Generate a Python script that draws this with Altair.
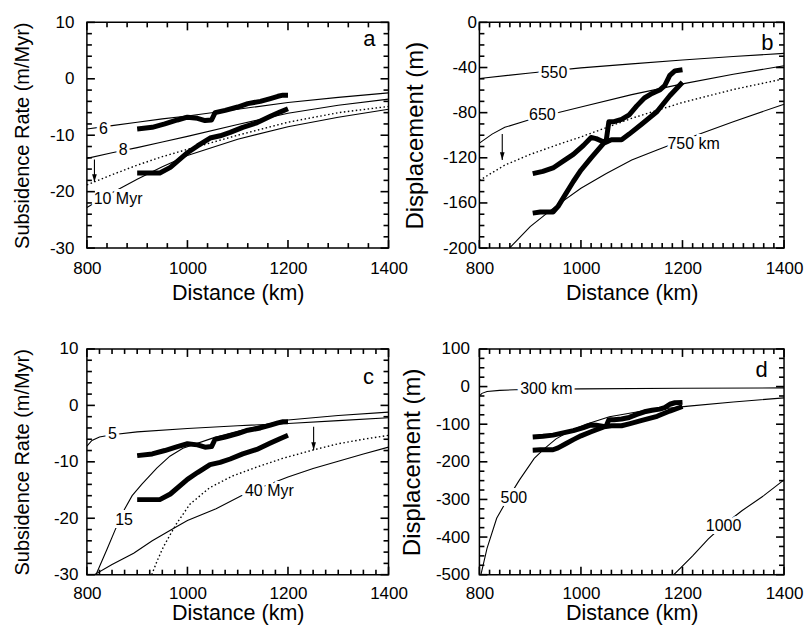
import altair as alt
import pandas as pd

FONT = "Liberation Sans"
H = 226

# ---------------- shared observed data (thick lines) ----------------
RATE_UP_X = [900, 930, 955, 980, 1000, 1020, 1035, 1048, 1055, 1075, 1100, 1120, 1145, 1165, 1180, 1190, 1200]
RATE_UP_Y = [-8.9, -8.6, -8.0, -7.3, -6.8, -7.0, -7.4, -7.3, -6.0, -5.6, -5.0, -4.4, -4.0, -3.5, -3.1, -2.9, -2.9]
RATE_LO_X = [900, 945, 966, 1000, 1020, 1045, 1065, 1085, 1110, 1138, 1164, 1184, 1200]
RATE_LO_Y = [-16.7, -16.7, -15.7, -13.1, -11.9, -10.5, -10.1, -9.5, -8.6, -7.8, -6.7, -5.9, -5.3]

DISP_UP_X = [905, 925, 945, 965, 985, 1005, 1020, 1030, 1045, 1050, 1055, 1065, 1080, 1095, 1110, 1125, 1140, 1155, 1165, 1175, 1185, 1200]
DISP_UP_Y = [-134, -132, -129, -123, -117, -109, -102, -103, -106, -104, -88, -88, -86, -82, -74, -67, -63, -60, -56, -47, -43, -42]
DISP_LO_X = [905, 920, 945, 955, 970, 985, 1000, 1020, 1045, 1060, 1080, 1095, 1120, 1150, 1175, 1200]
DISP_LO_Y = [-169, -168, -168, -163, -152, -141, -131, -120, -107, -104, -104, -99, -90, -79, -65, -53]

# ---------------- panel a ----------------
A_X = [800, 850, 900, 950, 1000, 1100, 1200, 1300, 1400]
A_6 = [-8.9, -8.3, -7.7, -7.1, -6.6, -5.4, -4.2, -3.3, -2.5]
A_8 = [-14.1, -13.1, -12.2, -11.2, -10.2, -8.1, -6.1, -4.7, -3.6]
A_DOT = [-18.8, -17.0, -15.3, -13.8, -12.5, -10.0, -7.7, -6.0, -4.9]
A_10 = [-22.8, -20.2, -17.8, -15.6, -13.6, -10.7, -8.5, -6.8, -5.4]
A_LABELS = ["6", "8", "10 Myr"]
A_LAB_X = [833, 872, 862]
A_LAB_Y = [-8.9, -12.6, -21.3]
A_ARROW = [815, -14.3, -18.3]

# ---------------- panel b ----------------
B550_X = [800, 900, 1000, 1100, 1200, 1300, 1400]
B550_Y = [-49.8, -44.8, -40.3, -36.8, -33.4, -30.3, -27.5]
B650_X = [800, 825, 850, 900, 950, 1000, 1100, 1200, 1300, 1400]
B650_Y = [-107, -99, -93, -86, -80.5, -75, -64, -54.5, -46, -38.5]
BDOT_X = [800, 850, 900, 950, 1000, 1100, 1200, 1300, 1400]
BDOT_Y = [-140, -126.5, -117, -109, -101.5, -85, -71, -59.5, -50]
B750_X = [855, 900, 950, 1000, 1050, 1100, 1150, 1200, 1300, 1400]
B750_Y = [-202, -181, -163, -147, -134, -122, -113, -104.5, -88, -72.5]
B_LABELS = ["550", "650", "750 km"]
B_LAB_X = [947, 924, 1222]
B_LAB_Y = [-44.5, -82.5, -108]
B_ARROW = [845, -99, -122]

# ---------------- panel c ----------------
C5_X = [800, 810, 825, 850, 900, 1000, 1100, 1200, 1300, 1400]
C5_Y = [-7.2, -6.2, -5.6, -5.2, -4.7, -4.1, -3.6, -3.2, -2.7, -2.2]
C15_X = [818, 840, 856, 873, 890, 909, 939, 965, 991, 1050, 1100, 1150, 1200, 1300, 1400]
C15_Y = [-30, -25.5, -22.1, -18.7, -16.0, -14.0, -11.1, -9.0, -7.6, -5.8, -4.6, -3.5, -2.6, -1.8, -1.2]
CDOT_X = [929, 940, 952, 965, 978, 1005, 1044, 1090, 1136, 1189, 1250, 1300, 1350, 1400]
CDOT_Y = [-30, -27.5, -25.1, -23.0, -21.0, -17.5, -14.6, -12.5, -11.0, -9.4, -7.9, -6.8, -6.0, -5.3]
C40_X = [815, 850, 893, 930, 972, 1000, 1057, 1110, 1150, 1200, 1250, 1300, 1350, 1400]
C40_Y = [-30, -28.2, -26.2, -24.0, -21.8, -20.4, -18.3, -15.9, -14.4, -12.7, -11.2, -9.9, -8.6, -7.4]
C_LABELS = ["5", "15", "40 Myr"]
C_LAB_X = [851, 874, 1163]
C_LAB_Y = [-5.1, -20.4, -15.2]
C_ARROW = [1251, -3.8, -7.9]

# ---------------- panel d ----------------
D300_X = [800, 805, 815, 840, 870, 1000, 1200, 1400]
D300_Y = [-25, -18, -13, -10, -8.5, -6, -4.4, -3.5]
D500_X = [803, 815, 834, 855, 879, 908, 928, 951, 980, 1010, 1056, 1121, 1212, 1300, 1400]
D500_Y = [-500, -430, -350, -300, -248, -191, -165, -139, -117, -100, -80, -65, -52, -41, -30]
D1000_X = [1183, 1220, 1251, 1281, 1317, 1360, 1400]
D1000_Y = [-500, -450, -405, -368, -330, -290, -248]
D_LABELS = ["300 km", "500", "1000"]
D_LAB_X = [932, 868, 1281]
D_LAB_Y = [-7, -297, -370]

# ---------------- axes ticks ----------------
X_MAJOR = [800, 1000, 1200, 1400]
RATE_MAJOR = [-30, -20, -10, 0, 10]
RATE_MINOR = [v for v in range(-28, 10, 2) if v % 10 != 0]
DISPB_MAJOR = [-200, -160, -120, -80, -40, 0]
DISPB_MINOR = [v for v in range(-190, 0, 10) if v % 40 != 0]
DISPD_MAJOR = [-500, -400, -300, -200, -100, 0, 100]
DISPD_MINOR = [v for v in range(-475, 100, 25) if v % 100 != 0]
XMINOR_A = [v for v in range(840, 1400, 40) if v % 200 != 0]
XMINOR_B = [v for v in range(820, 1400, 20) if v % 200 != 0]
XMINOR_C = [v for v in range(825, 1400, 25) if v % 200 != 0]
XMINOR_D = [v for v in range(820, 1400, 20) if v % 200 != 0]


def to_df(series):
    rows = []
    for name, xs, ys in series:
        for i, (x, y) in enumerate(zip(xs, ys)):
            rows.append({"name": name, "x": x, "y": y, "i": i})
    return pd.DataFrame(rows)


def panel(width, ydom, ymajor, yminor, xminor, ytitle, ytsize, ylabpad, ytpad, xlabpad, xtpad,
          solid, dotted, thick, labels, arrow, letter, letter_xy):
    xs = alt.Scale(domain=[800, 1400], nice=False, zero=False)
    ys = alt.Scale(domain=ydom, nice=False, zero=False)
    common = dict(domain=False, grid=False, ticks=False, tickSize=0,
                  labelFlush=False, labelOverlap=False, titleFontWeight="normal")

    frame = pd.DataFrame({"x": [800, 1400], "y": ydom})
    ax1 = alt.Chart(frame).mark_point(opacity=0).encode(
        x=alt.X("x:Q", scale=xs, axis=alt.Axis(
            orient="bottom", values=X_MAJOR, labelPadding=xlabpad, labelExpr="'' + datum.value",
            labelFontSize=17, title="Distance (km)", titleFontSize=21.5, titlePadding=xtpad, **common)),
        y=alt.Y("y:Q", scale=ys, axis=alt.Axis(
            orient="left", values=ymajor, labelPadding=ylabpad, labelExpr="'' + datum.value",
            labelFontSize=17, title=ytitle, titleFontSize=ytsize, titlePadding=ytpad, **common)),
    )
    layers = [ax1]

    def enc():
        return dict(x=alt.X("x:Q", scale=xs, axis=None), y=alt.Y("y:Q", scale=ys, axis=None))

    layers.append(alt.Chart(to_df(solid)).mark_line(color="black", strokeWidth=1.1, clip=True).encode(
        detail="name:N", order="i:Q", **enc()))
    if dotted:
        layers.append(alt.Chart(to_df(dotted)).mark_line(color="black", strokeWidth=1.4, strokeDash=[1.5, 2.5], clip=True).encode(
            detail="name:N", order="i:Q", **enc()))
    lab = pd.DataFrame({"t": labels[0], "x": labels[1], "y": labels[2]})
    layers.append(alt.Chart(lab).mark_text(font=FONT, fontSize=16, color="white", stroke="white", strokeWidth=6).encode(
        text="t:N", **enc()))
    layers.append(alt.Chart(lab).mark_text(font=FONT, fontSize=16, color="black").encode(text="t:N", **enc()))
    layers.append(alt.Chart(to_df(thick)).mark_line(color="black", strokeWidth=5, strokeCap="butt", strokeJoin="round", clip=True).encode(
        detail="name:N", order="i:Q", **enc()))
    if arrow is not None:
        adf = pd.DataFrame({"x": [arrow[0]], "y": [arrow[1]], "y2": [arrow[2]]})
        layers.append(alt.Chart(adf).mark_rule(color="black", strokeWidth=1.1).encode(
            x=alt.X("x:Q", scale=xs, axis=None), y=alt.Y("y:Q", scale=ys, axis=None), y2="y2:Q"))
        layers.append(alt.Chart(adf).mark_point(shape="M-0.6,-2L0,0L0.6,-2Z", filled=True, color="black", size=60, opacity=1).encode(
            x=alt.X("x:Q", scale=xs, axis=None), y=alt.Y("y2:Q", scale=ys, axis=None)))
    ldf = pd.DataFrame({"t": [letter], "x": [letter_xy[0]], "y": [letter_xy[1]]})
    layers.append(alt.Chart(ldf).mark_text(font=FONT, fontSize=22, color="black").encode(text="t:N", **enc()))

    # inward tick marks on all four sides (major and minor), drawn last, as short
    # segments whose length (8 px / 5 px) is expressed in the panel's own data units
    y0, y1 = ydom
    for vals, ln in [(X_MAJOR, 8), (xminor, 5)]:
        L = ln / H * (y1 - y0)
        for a, b in [(y0, y0 + L), (y1, y1 - L)]:
            tdf = pd.DataFrame({"x": vals, "y": [a] * len(vals), "y2": [b] * len(vals)})
            layers.append(alt.Chart(tdf).mark_rule(color="black", strokeWidth=1.6).encode(
                x=alt.X("x:Q", scale=xs, axis=None),
                y=alt.Y("y:Q", scale=ys, axis=None),
                y2="y2:Q"))
    for vals, ln in [(ymajor, 8), (yminor, 5)]:
        L = ln / width * 600
        for a, b in [(800, 800 + L), (1400, 1400 - L)]:
            tdf = pd.DataFrame({"y": vals, "x": [a] * len(vals), "x2": [b] * len(vals)})
            layers.append(alt.Chart(tdf).mark_rule(color="black", strokeWidth=1.6).encode(
                y=alt.Y("y:Q", scale=ys, axis=None),
                x=alt.X("x:Q", scale=xs, axis=None),
                x2="x2:Q"))

    return alt.layer(*layers).resolve_axis(x="independent", y="independent").properties(width=width, height=H)


pa = panel(302, [-30, 10], RATE_MAJOR, RATE_MINOR, XMINOR_A, "Subsidence Rate (m/Myr)", 20, 13, 17, 12, 6,
           [("6", A_X, A_6), ("8", A_X, A_8), ("10", A_X, A_10)],
           [("dot", A_X, A_DOT)],
           [("up", RATE_UP_X, RATE_UP_Y), ("lo", RATE_LO_X, RATE_LO_Y)],
           (A_LABELS, A_LAB_X, A_LAB_Y), A_ARROW, "a", (1362, 7.0))
pb = panel(305, [-200, 0], DISPB_MAJOR, DISPB_MINOR, XMINOR_B, "Displacement (m)", 24, 3, 15, 12, 6,
           [("550", B550_X, B550_Y), ("650", B650_X, B650_Y), ("750", B750_X, B750_Y)],
           [("dot", BDOT_X, BDOT_Y)],
           [("up", DISP_UP_X, DISP_UP_Y), ("lo", DISP_LO_X, DISP_LO_Y)],
           (B_LABELS, B_LAB_X, B_LAB_Y), B_ARROW, "b", (1367, -18))
pc = panel(302, [-30, 10], RATE_MAJOR, RATE_MINOR, XMINOR_C, "Subsidence Rate (m/Myr)", 20, 9, 21, 11, 1,
           [("5", C5_X, C5_Y), ("15", C15_X, C15_Y), ("40", C40_X, C40_Y)],
           [("dot", CDOT_X, CDOT_Y)],
           [("up", RATE_UP_X, RATE_UP_Y), ("lo", RATE_LO_X, RATE_LO_Y)],
           (C_LABELS, C_LAB_X, C_LAB_Y), C_ARROW, "c", (1360, 5))
pd_ = panel(305, [-500, 100], DISPD_MAJOR, DISPD_MINOR, XMINOR_D, "Displacement (m)", 24, 10, 11, 11, 1,
            [("300", D300_X, D300_Y), ("500", D500_X, D500_Y), ("1000", D1000_X, D1000_Y)],
            [],
            [("up", DISP_UP_X, DISP_UP_Y), ("lo", DISP_LO_X, DISP_LO_Y)],
            (D_LABELS, D_LAB_X, D_LAB_Y), None, "d", (1356, 43))

chart = alt.concat(
    pa, pb, pc, pd_, columns=2, spacing={"row": 101, "column": 91}, bounds="flush",
).properties(padding={"left": 3, "top": 4, "right": 0, "bottom": 0}).configure_view(
    stroke="black", strokeWidth=1.5
).configure_axis(labelFont=FONT, titleFont=FONT, labelColor="black", titleColor="black")

chart.save("out.html", embed_options={"renderer": "svg", "actions": False})
